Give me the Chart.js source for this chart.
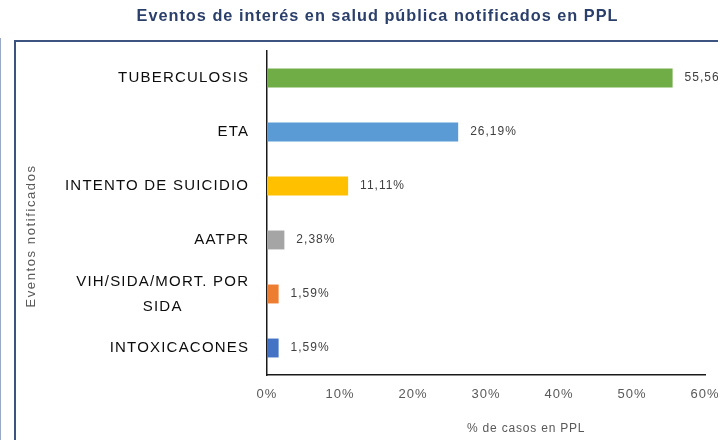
<!DOCTYPE html>
<html>
<head>
<meta charset="utf-8">
<script src="https://cdn.jsdelivr.net/npm/chart.js@4"></script>
<style>
  html, body { margin: 0; padding: 0; background: #fff; overflow: hidden; width: 718px; height: 440px; }
  #wrap { position: relative; width: 718px; height: 440px; overflow: hidden; }
  canvas { position: absolute; left: 0; top: 0; }
  .frame { position: absolute; left: 14px; top: 40px; width: 720px; height: 420px;
           border-left: 2px solid #3D5380; border-top: 2px solid #3D5380; pointer-events: none; }
  .edge { position: absolute; left: 0; top: 38px; width: 1px; height: 410px; background: #9AAAC6; }
</style>
</head>
<body>
<div id="wrap">
  <canvas id="c" width="740" height="440"></canvas>
  <div class="frame"></div>
  <div class="edge"></div>
</div>
<script>
// Eventos notificados y porcentaje de casos en PPL
const categories = [
  'TUBERCULOSIS',
  'ETA',
  'INTENTO DE SUICIDIO',
  'AATPR',
  ['VIH/SIDA/MORT. POR', 'SIDA'],
  'INTOXICACONES'
];
const values = [55.56, 26.19, 11.11, 2.38, 1.59, 1.59];
const barColors = ['#70AD47', '#5B9BD5', '#FFC000', '#A5A5A5', '#ED7D31', '#4472C4'];
const xTicks = [0, 10, 20, 30, 40, 50, 60];
const yTitle = 'Eventos notificados';
const xTitle = '% de casos en PPL';

const FONT = '"Liberation Sans", Arial, sans-serif';
const fmt = v => v.toFixed(2).replace('.', ',') + '%';

// default tracking for text drawn by the library (title, tick labels)
const spacing = {
  id: 'spacing',
  beforeUpdate(c) { c.ctx.letterSpacing = '1px'; },
  beforeLayout(c) { c.ctx.letterSpacing = '1px'; },
  beforeDraw(c) { c.ctx.letterSpacing = '1px'; }
};

// category names (right-aligned block, lines centred) and axis titles
const axisText = {
  id: 'axisText',
  afterDraw(chart) {
    const { ctx } = chart;
    const y = chart.scales.y;
    const x = chart.scales.x;
    ctx.save();
    ctx.font = '15px ' + FONT;
    ctx.fillStyle = '#0d0d0d';
    ctx.letterSpacing = '1.2px';
    ctx.textBaseline = 'middle';
    ctx.textAlign = 'left';
    const right = y.right - 17.8;
    const lh = 25;
    categories.forEach((lab, i) => {
      const lines = Array.isArray(lab) ? lab : [lab];
      const yc = y.getPixelForValue(i);
      const widths = lines.map(l => ctx.measureText(l).width);
      const w = Math.max(...widths);
      lines.forEach((l, k) => {
        const ly = yc + (k - (lines.length - 1) / 2) * lh;
        ctx.fillText(l, right - w / 2 - widths[k] / 2, ly);
      });
    });

    // vertical axis title
    ctx.fillStyle = '#595959';
    ctx.font = '13px ' + FONT;
    ctx.letterSpacing = '1.6px';
    ctx.textAlign = 'center';
    ctx.save();
    ctx.translate(31, (y.top + y.bottom) / 2 + 23);
    ctx.rotate(-Math.PI / 2);
    ctx.fillText(yTitle, 0, 0);
    ctx.restore();

    // horizontal axis title
    ctx.font = '12px ' + FONT;
    ctx.letterSpacing = '0.8px';
    ctx.fillText(xTitle, x.getPixelForValue(35.5), 429);
    ctx.restore();
  }
};

// value labels at the end of each bar
const valueLabels = {
  id: 'valueLabels',
  afterDatasetsDraw(chart) {
    const { ctx } = chart;
    const meta = chart.getDatasetMeta(0);
    ctx.save();
    ctx.font = '12px ' + FONT;
    ctx.fillStyle = '#404040';
    ctx.letterSpacing = '1px';
    ctx.textBaseline = 'middle';
    ctx.textAlign = 'left';
    meta.data.forEach((bar, i) => {
      ctx.fillText(fmt(values[i]), bar.x + 12, bar.y);
    });
    ctx.restore();
  }
};

new Chart(document.getElementById('c'), {
  type: 'bar',
  data: {
    labels: categories,
    datasets: [{
      data: values,
      backgroundColor: barColors,
      borderWidth: 0,
      barPercentage: 0.35,
      categoryPercentage: 1
    }]
  },
  options: {
    indexAxis: 'y',
    responsive: false,
    animation: false,
    devicePixelRatio: 1,
    layout: { padding: { left: 50, right: 35, top: 0, bottom: 0 } },
    plugins: {
      legend: { display: false },
      tooltip: { enabled: false },
      title: {
        display: true,
        text: 'Eventos de interés en salud pública notificados en PPL',
        color: '#2B3F6B',
        font: { family: FONT, size: 16.3, weight: 'bold' },
        padding: { top: 7, bottom: 24.4 }
      }
    },
    scales: {
      x: {
        type: 'linear',
        position: 'bottom',
        min: 0,
        max: 60,
        afterBuildTicks: s => { s.ticks = xTicks.map(v => ({ value: v })); },
        afterFit: s => { s.height = 65; },
        grid: { display: false },
        border: { display: true, color: '#1a1a1a', width: 1.5 },
        ticks: {
          color: '#595959',
          font: { family: FONT, size: 13 },
          padding: 3.5,
          maxRotation: 0,
          callback: v => v + '%'
        },
        title: { display: false }
      },
      y: {
        type: 'category',
        position: 'left',
        offset: true,
        afterFit: s => { s.width = 217; },
        grid: { display: false },
        border: { display: true, color: '#1a1a1a', width: 1.5 },
        ticks: { display: false },
        title: { display: false }
      }
    }
  },
  plugins: [spacing, axisText, valueLabels]
});
</script>
</body>
</html>
